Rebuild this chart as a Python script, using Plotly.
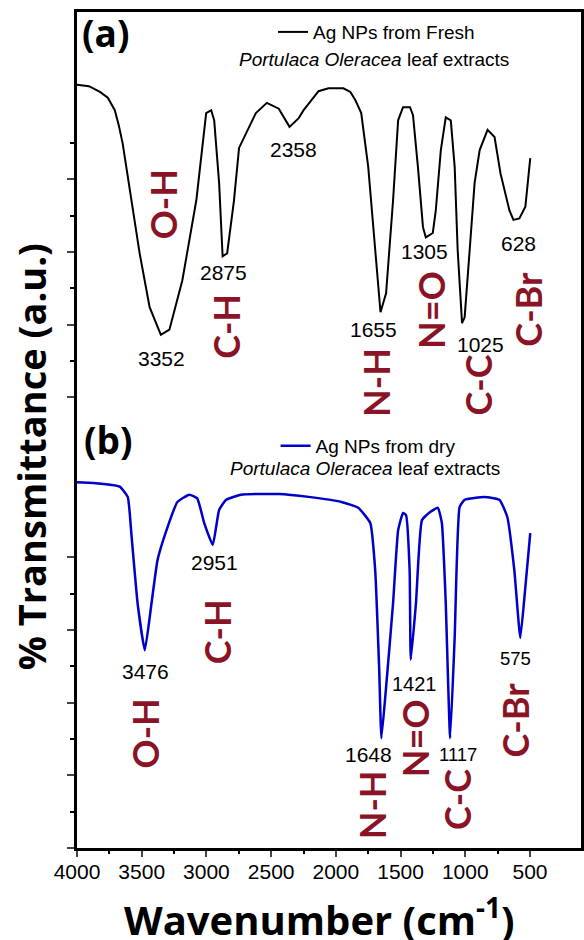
import plotly.graph_objects as go

# FTIR spectra of Ag nanoparticles (Portulaca oleracea leaf extracts).
# Upper trace (fresh extract) is vertically offset above the dry-extract trace.
fresh_wavenumber = [4000, 3908, 3823, 3762, 3708, 3677, 3647, 3593, 3516, 3439,
                    3352, 3286, 3186, 3078, 3002, 2963, 2940, 2902, 2875, 2840,
                    2787, 2748, 2618, 2533, 2441, 2358, 2287, 2249, 2187, 2134,
                    2057, 1942, 1888, 1850, 1804, 1750, 1696, 1655, 1612, 1558,
                    1519, 1481, 1427, 1404, 1366, 1327, 1305, 1251, 1228, 1189,
                    1151, 1112, 1082, 1059, 1025, 1005, 966, 928, 889, 828,
                    774, 728, 659, 628, 582, 536, 498]
fresh_transmittance = [105.0, 104.8, 104.0, 103.2, 101.5, 99.4, 96.9, 90.9, 81.8, 74.4,
                       70.6, 71.3, 78.1, 89.1, 101.1, 101.5, 100.1, 91.5, 81.4, 81.8,
                       89.1, 96.3, 101.1, 102.5, 101.7, 99.2, 100.4, 101.5, 102.9, 104.1,
                       104.5, 104.5, 104.0, 102.9, 101.1, 93.7, 82.3, 73.7, 76.3, 89.1,
                       100.1, 101.9, 101.9, 100.8, 93.7, 85.4, 84.0, 84.6, 87.7, 96.0,
                       100.5, 100.1, 93.7, 82.3, 72.2, 73.0, 82.3, 91.5, 96.0, 98.8,
                       97.8, 92.8, 87.7, 86.4, 86.6, 88.2, 94.9]

dry_wavenumber = [4000, 3877, 3670, 3608, 3578, 3532, 3476, 3424, 3378, 3309,
                  3224, 3132, 3071, 3017, 2951, 2902, 2848, 2733, 2441, 2211,
                  1957, 1827, 1734, 1696, 1665, 1648, 1612, 1558, 1519, 1481,
                  1458, 1430, 1421, 1381, 1335, 1274, 1212, 1181, 1151, 1117,
                  1082, 1044, 1005, 851, 736, 675, 621, 575, 536, 498]
dry_transmittance = [50.3, 50.2, 49.7, 48.3, 42.8, 33.7, 27.2, 33.7, 39.6, 43.7,
                     47.6, 48.6, 48.1, 44.7, 41.7, 46.5, 47.9, 48.6, 48.7, 48.3,
                     47.6, 46.8, 44.7, 38.2, 24.5, 15.1, 22.1, 33.7, 43.7, 46.1,
                     45.8, 38.2, 25.9, 33.7, 45.1, 46.2, 46.8, 44.7, 33.7, 15.1,
                     29.0, 46.9, 47.9, 48.3, 47.9, 45.5, 38.2, 28.9, 35.9, 43.3]

# Peak positions (cm^-1) with label anchor points (wavenumber, a.u.)
fresh_peaks = [3352, 2875, 2358, 1655, 1305, 1025, 628]
fresh_peak_label_x = [3350, 2866, 2326, 1711, 1312, 882, 590]
fresh_peak_label_y = [67.4, 79.2, 96.1, 71.3, 82.1, 69.3, 83.1]

dry_peaks = [3476, 2951, 1648, 1421, 1117, 575]
dry_peak_label_x = [3470, 2935, 1750, 1389, 1059, 613]
dry_peak_label_y = [24.3, 39.3, 12.9, 22.6, 12.8, 26.0]
dry_peak_label_size = [21, 21, 21, 20, 18.5, 18.5]

# Functional-group band assignments
bands = ["O-H", "C-H", "N-H", "N=O", "C-C", "C-Br"]
fresh_band_x = [3340, 2848, 1688, 1266, 905, 513]
fresh_band_y = [88.6, 71.7, 64.0, 74.0, 63.7, 74.1]
dry_band_x = [3478, 2917, 1719, 1389, 1059, 613]
dry_band_y = [15.7, 29.7, 5.9, 15.1, 6.7, 17.6]

x_ticks = [4000, 3500, 3000, 2500, 2000, 1500, 1000, 500]
x_minor_ticks = [3750, 3250, 2750, 2250, 1750, 1250, 750]

ARIAL = "Arial, 'Liberation Sans', sans-serif"
BAND_FONT = "Lato, 'Open Sans', sans-serif"
TITLE_FONT = "'Open Sans', sans-serif"
BAND_COLOR = "#8A1426"

fig = go.Figure()
fig.add_trace(go.Scatter(
    x=fresh_wavenumber, y=fresh_transmittance, mode="lines",
    line=dict(color="black", width=2),
    name="Ag NPs from Fresh", legend="legend",
))
fig.add_trace(go.Scatter(
    x=dry_wavenumber, y=dry_transmittance, mode="lines",
    line=dict(color="#0000C8", width=2.5, shape="spline", smoothing=0.4),
    name="Ag NPs from dry", legend="legend2",
))

annotations = []
for p, x, y in zip(fresh_peaks, fresh_peak_label_x, fresh_peak_label_y):
    annotations.append(dict(x=x, y=y, text=str(p), showarrow=False,
                            xanchor="center", yanchor="middle",
                            font=dict(family=ARIAL, size=21, color="black")))
for p, x, y, s in zip(dry_peaks, dry_peak_label_x, dry_peak_label_y, dry_peak_label_size):
    annotations.append(dict(x=x, y=y, text=str(p), showarrow=False,
                            xanchor="center", yanchor="middle",
                            font=dict(family=ARIAL, size=s, color="black")))
for b, x, y in zip(bands, fresh_band_x, fresh_band_y):
    annotations.append(dict(x=x, y=y, text="<b>%s</b>" % b, showarrow=False, textangle=-90,
                            xanchor="center", yanchor="middle",
                            font=dict(family=BAND_FONT, size=36, color=BAND_COLOR)))
for b, x, y in zip(bands, dry_band_x, dry_band_y):
    annotations.append(dict(x=x, y=y, text="<b>%s</b>" % b, showarrow=False, textangle=-90,
                            xanchor="center", yanchor="middle",
                            font=dict(family=BAND_FONT, size=36, color=BAND_COLOR)))

# Panel letters, legend second lines and axis titles
paper_text = [
    (0.057, 0.9749, "<b>(a)</b>", TITLE_FONT, 37, 0),
    (0.063, 0.4892, "<b>(b)</b>", TITLE_FONT, 37, 0),
    (0.590, 0.9426, "<i>Portulaca Oleracea</i> leaf extracts", ARIAL, 19, 0),
    (0.572, 0.4545, "<i>Portulaca Oleracea</i> leaf extracts", ARIAL, 19, 0),
    (-0.0907, 0.4677, "<b>% Transmittance (a.u.)</b>", TITLE_FONT, 38, -90),
    (0.481, -0.0837, "<b>Wavenumber (cm<sup>-1</sup>)</b>", TITLE_FONT, 40, 0),
]
for x, y, t, fam, size, ang in paper_text:
    annotations.append(dict(xref="paper", yref="paper", x=x, y=y, text=t, showarrow=False,
                            xanchor="center", yanchor="middle", textangle=ang,
                            font=dict(family=fam, size=size, color="black")))

fig.update_layout(
    width=584, height=940,
    margin=dict(l=77, r=0, t=12, b=92),
    plot_bgcolor="white", paper_bgcolor="white",
    showlegend=True,
    annotations=annotations,
    legend=dict(x=0.389, y=0.976, xanchor="left", yanchor="middle",
                bgcolor="rgba(0,0,0,0)", font=dict(family=ARIAL, size=19, color="black")),
    legend2=dict(x=0.394, y=0.481, xanchor="left", yanchor="middle",
                 bgcolor="rgba(0,0,0,0)", font=dict(family=ARIAL, size=19, color="black")),
    xaxis=dict(
        range=[4000, 106], showgrid=False, zeroline=False,
        showline=True, mirror=True, linecolor="black", linewidth=3,
        tickmode="array", tickvals=x_ticks, ticks="outside", ticklen=6, tickwidth=1.5,
        ticklabelstandoff=-3,
        tickfont=dict(family=ARIAL, size=21, color="black"),
        minor=dict(tickmode="array", tickvals=x_minor_ticks,
                   ticks="outside", ticklen=3, tickwidth=1.5, tickcolor="black"),
    ),
    yaxis=dict(
        range=[0, 115], showgrid=False, zeroline=False,
        showline=True, mirror=True, linecolor="black", linewidth=3,
        tickmode="array", tickvals=[0, 10, 20, 30, 40, 62, 72, 82, 92],
        showticklabels=False, ticks="outside", ticklen=7, tickwidth=1.5,
        minor=dict(tickmode="array", tickvals=[5, 15, 25, 35, 67, 77, 87, 97],
                   ticks="outside", ticklen=4, tickwidth=1.5, tickcolor="black"),
    ),
)

fig.write_html("out.html")
